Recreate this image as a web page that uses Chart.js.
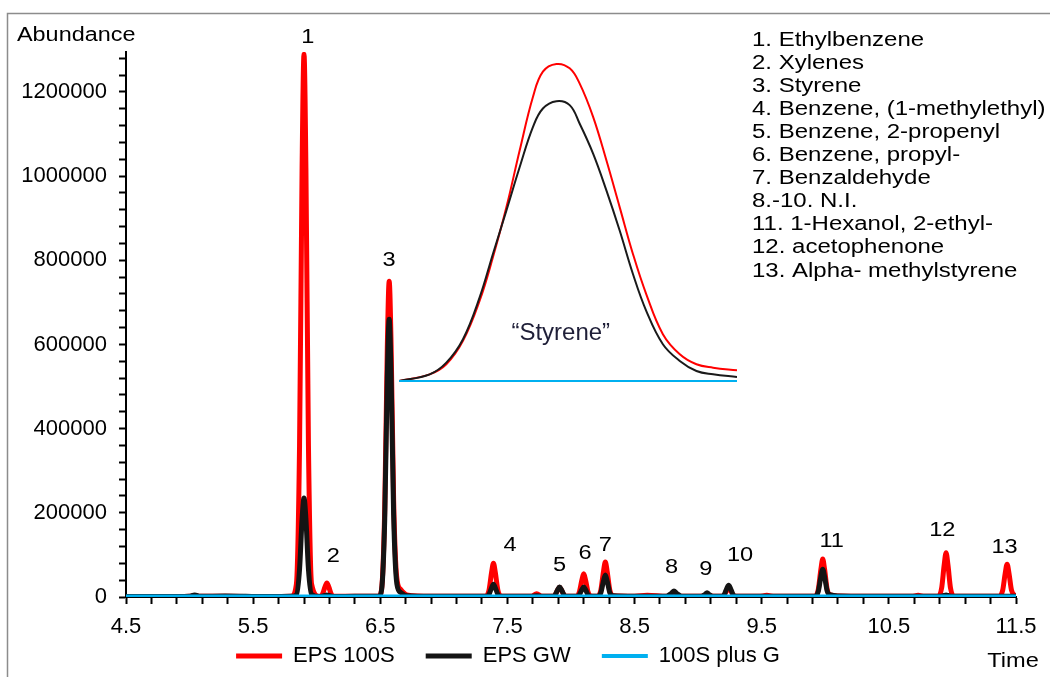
<!DOCTYPE html>
<html><head><meta charset="utf-8">
<script src="https://cdn.jsdelivr.net/npm/chart.js@4.4.1/dist/chart.umd.min.js"></script>
<style>
html,body{margin:0;padding:0;background:#fff;}
#wrap{position:relative;width:1050px;height:677px;overflow:hidden;}
#main{position:absolute;left:0;top:0;}
#inset{position:absolute;left:399px;top:55px;}
</style></head><body>
<div id="wrap"><canvas id="main" width="1050" height="677"></canvas><canvas id="inset" width="338" height="330"></canvas></div>
<script>
const FONT = '"Liberation Sans", Arial, Helvetica, sans-serif';
Chart.defaults.font.family = FONT;
Chart.defaults.color = '#000';

// ---- main chromatogram data (retention time in min, abundance) ----
const times = [
 4.50, 4.90, 5.00, 5.04, 5.08, 5.28, 5.60, 5.80,
 5.84, 5.865, 5.885, 5.90, 5.915, 5.935, 5.96,
 6.02, 6.045, 6.065, 6.08, 6.095, 6.115, 6.14,
 6.30, 6.49,
 6.51, 6.535, 6.555, 6.57, 6.585, 6.605, 6.63, 6.66, 6.71,
 6.90, 7.20,
 7.33, 7.355, 7.375, 7.39, 7.405, 7.425, 7.45,
 7.69, 7.73, 7.77,
 7.85, 7.875, 7.895, 7.91, 7.925, 7.945, 7.97,
 8.04, 8.065, 8.085, 8.10, 8.115, 8.135, 8.165,
 8.21, 8.235, 8.255, 8.27, 8.285, 8.305, 8.33,
 8.50, 8.60,
 8.75, 8.79, 8.81, 8.83, 8.87,
 9.02, 9.055, 9.07, 9.085, 9.12,
 9.18, 9.205, 9.225, 9.24, 9.255, 9.275, 9.30,
 9.48, 9.54, 9.60,
 9.92, 9.945, 9.965, 9.98, 9.995, 10.015, 10.04, 10.10,
 10.40, 10.68, 10.73, 10.78,
 10.89, 10.915, 10.935, 10.95, 10.965, 10.985, 11.01,
 11.37, 11.395, 11.415, 11.43, 11.445, 11.465, 11.50
];
const eps100S = [
 1000, 1000, 1500, 3000, 1500, 1500, 1000, 1500,
 30000, 360000, 1020000, 1290000, 1020000, 360000, 30000,
 1500, 6600, 23800, 33000, 23800, 6600, 1500,
 1500, 2000,
 18000, 210000, 590000, 750000, 600000, 230000, 45000, 18000, 5000,
 1500, 1500,
 1500, 16000, 57600, 80000, 57600, 16000, 1500,
 1500, 8000, 1500,
 1500, 4600, 16600, 23000, 16600, 4600, 1500,
 1500, 11000, 39600, 55000, 39600, 11000, 2000,
 2000, 16600, 59800, 83000, 59800, 16600, 3000,
 2000, 4000,
 1500, 5000, 8000, 5000, 1500,
 1500, 4000, 6000, 4000, 1500,
 1500, 4400, 15800, 22000, 15800, 4400, 1500,
 1500, 4000, 1500,
 1500, 18000, 64800, 90000, 64800, 18000, 5000, 2500,
 2000, 1500, 4000, 1500,
 1500, 21000, 75600, 105000, 75600, 21000, 1500,
 1500, 15600, 56200, 78000, 56200, 15600, 1500
];
const epsGW = [
 1000, 1000, 1500, 5000, 1500, 2500, 1000, 1500,
 5000, 66000, 186000, 235000, 186000, 66000, 6000,
 1000, 1800, 3600, 5000, 3600, 1800, 1000,
 1500, 2000,
 16000, 185000, 520000, 660000, 528000, 195000, 32000, 11000, 3000,
 1500, 1500,
 1500, 6000, 21600, 30000, 21600, 6000, 1500,
 1500, 3000, 1500,
 1500, 4800, 17300, 24000, 17300, 4800, 1500,
 1500, 4800, 17300, 24000, 17300, 4800, 2000,
 2000, 10400, 37400, 52000, 37400, 10400, 3000,
 2000, 2000,
 1500, 9000, 14000, 9000, 1500,
 1500, 6500, 10000, 6500, 1500,
 1500, 5600, 20200, 28000, 20200, 5600, 1500,
 1500, 2000, 1500,
 1500, 13200, 47500, 66000, 47500, 14000, 5000, 2500,
 2000, 1500, 2000, 1500,
 1500, 2000, 3600, 5000, 3600, 2000, 1500,
 1500, 1500, 1500, 2000, 1500, 1500, 1500
];
const plusGTimes = [4.5, 11.5];
const plusG = [1000, 1000];

const seriesNames = ['EPS 100S', 'EPS GW', '100S plus G'];
const seriesColors = ['#ff0000', '#141414', '#00b0f0'];
const xTickLabels = ['4.5', '5.5', '6.5', '7.5', '8.5', '9.5', '10.5', '11.5'];
const yTickLabels = ['0', '200000', '400000', '600000', '800000', '1000000', '1200000'];
const yMinorStep = 40000;
const yAxisMax = 1295000;

// peak number annotations
const peakLabels = ['1','2','3','4','5','6','7','8','9','10','11','12','13'];
const peakLabelTimes = [5.93, 6.13, 6.57, 7.52, 7.91, 8.11, 8.27, 8.79, 9.06, 9.33, 10.05, 10.92, 11.41];
const peakLabelValues = [1330000, 97400, 800700, 123500, 76000, 104500, 123500, 71300, 64200, 99800, 133000, 159200, 118800];

const compounds = [
 '1. Ethylbenzene', '2. Xylenes', '3. Styrene', '4. Benzene, (1-methylethyl)',
 '5. Benzene, 2-propenyl', '6. Benzene, propyl-', '7. Benzaldehyde', '8.-10. N.I.',
 '11. 1-Hexanol, 2-ethyl-', '12. acetophenone', '13. Alpha- methylstyrene'
];

// ---- inset: zoom on the styrene peak ----
const insetTimes = [6.5200, 6.5327, 6.5396, 6.5465, 6.5534, 6.5589, 6.5645, 6.5700, 6.5755, 6.5796, 6.5852, 6.5907,
 6.5948, 6.6004, 6.6059, 6.6114, 6.6169, 6.6224, 6.6293, 6.6363, 6.6432, 6.6501, 6.6600];
const insetRed = [0, 15800, 39600, 94900, 189900, 292700, 411400, 545900, 672400, 731800, 750000, 739700,
 704100, 625000, 522100, 411400, 300600, 205700, 110800, 63300, 39600, 31600, 25300];
const insetBlack = [0, 15800, 43500, 98900, 197800, 300600, 403500, 506300, 601200, 644700, 662100, 652700,
 609100, 537900, 450900, 356000, 253200, 166100, 87000, 47500, 23700, 15800, 9500];
const insetBlueTimes = [6.52, 6.66];
const insetBlue = [0, 0];
const insetLabel = '\u201cStyrene\u201d';
const insetLabelTime = 6.587;
const insetLabelValue = 113600;

const pts = (xs, ys) => xs.map((t, i) => ({x: t, y: ys[i]}));

function stretchText(ctx, text, x, y, align, size, sx, color) {
  ctx.save();
  ctx.font = size + 'px ' + FONT;
  ctx.textAlign = align;
  ctx.textBaseline = 'middle';
  ctx.fillStyle = color || '#000';
  ctx.translate(x, y);
  ctx.scale(sx, 1);
  ctx.fillText(text, 0, 0);
  ctx.restore();
}

const decor = {
  id: 'decor',
  beforeDraw(chart) {
    const ctx = chart.ctx;
    ctx.save();
    ctx.strokeStyle = '#8c8c8c';
    ctx.lineWidth = 1.5;
    ctx.beginPath();
    ctx.moveTo(7.5, 677); ctx.lineTo(7.5, 13.5); ctx.lineTo(1050, 13.5);
    ctx.stroke();
    ctx.restore();
  },
  afterDraw(chart) {
    const {ctx, scales: {x, y}} = chart;
    peakLabels.forEach((lab, i) => {
      stretchText(ctx, lab, x.getPixelForValue(peakLabelTimes[i]), y.getPixelForValue(peakLabelValues[i]), 'center', 20, 1.18);
    });
    stretchText(ctx, 'Abundance', 17, 35, 'left', 20, 1.17);
    stretchText(ctx, 'Time', x.getPixelForValue(11.5) - 3, 661, 'center', 20, 1.18);
    compounds.forEach((c, i) => stretchText(ctx, c, 752, 40 + i * 23.1, 'left', 20, 1.2));
  }
};

const mainChart = new Chart(document.getElementById('main'), {
  type: 'line',
  data: {
    datasets: [
      {label: seriesNames[0], data: pts(times, eps100S), borderColor: seriesColors[0], backgroundColor: seriesColors[0], borderWidth: 5, order: 3},
      {label: seriesNames[1], data: pts(times, epsGW), borderColor: seriesColors[1], backgroundColor: seriesColors[1], borderWidth: 5, order: 2},
      {label: seriesNames[2], data: pts(plusGTimes, plusG), borderColor: seriesColors[2], backgroundColor: seriesColors[2], borderWidth: 4, order: 1}
    ]
  },
  options: {
    responsive: false,
    animation: false,
    devicePixelRatio: 1,
    events: [],
    layout: {padding: {left: 0, right: 34, top: 52, bottom: 0}},
    elements: {
      point: {radius: 0, hoverRadius: 0},
      line: {cubicInterpolationMode: 'monotone', borderCapStyle: 'round', borderJoinStyle: 'round', fill: false}
    },
    scales: {
      x: {
        type: 'linear', min: 4.5, max: 11.5,
        afterFit: (s) => { s.height = 45; },
        border: {display: true, color: '#000', width: 2},
        grid: {display: true, drawOnChartArea: false, drawTicks: true, tickLength: 7, tickColor: '#000', tickWidth: 2},
        ticks: {
          stepSize: 0.2, autoSkip: false, maxRotation: 0, padding: 10,
          font: {size: 22}, color: '#000',
          callback: (v) => { const s = Number(v).toFixed(1); return xTickLabels.includes(s) ? s : ''; }
        }
      },
      y: {
        type: 'linear', min: 0, max: yAxisMax,
        afterFit: (s) => { s.width = 126; },
        afterBuildTicks: (s) => {
          const t = [];
          for (let v = 0; v <= yAxisMax; v += yMinorStep) t.push({value: v});
          s.ticks = t;
        },
        border: {display: true, color: '#000', width: 2},
        grid: {display: true, drawOnChartArea: false, drawTicks: true, tickLength: 7, tickColor: '#000', tickWidth: 2},
        ticks: {
          autoSkip: false, padding: 12,
          font: {size: 22}, color: '#000',
          callback: (v) => { const s = String(Math.round(v)); return yTickLabels.includes(s) ? s : ''; }
        }
      }
    },
    plugins: {
      legend: {
        display: true, position: 'bottom',
        labels: {
          usePointStyle: true, pointStyle: 'line', pointStyleWidth: 46, padding: 3,
          font: {size: 22}, color: '#000',
          sort: (a, b) => a.datasetIndex - b.datasetIndex,
          generateLabels: (chart) => {
            const items = Chart.defaults.plugins.legend.labels.generateLabels(chart);
            items.forEach((it) => { if (it.datasetIndex < seriesNames.length - 1) it.text = it.text + '\u2003 '; });
            return items;
          }
        }
      },
      tooltip: {enabled: false}
    }
  },
  plugins: [decor]
});

const insetDecor = {
  id: 'insetDecor',
  afterDraw(chart) {
    const {ctx, scales: {x, y}} = chart;
    stretchText(ctx, insetLabel, x.getPixelForValue(insetLabelTime), y.getPixelForValue(insetLabelValue), 'center', 24, 1.0, '#1f1f38');
  }
};

new Chart(document.getElementById('inset'), {
  type: 'line',
  data: {
    datasets: [
      {data: pts(insetTimes, insetRed), borderColor: '#ff0000', borderWidth: 2, order: 3},
      {data: pts(insetTimes, insetBlack), borderColor: '#1a1a1a', borderWidth: 2, order: 2},
      {data: pts(insetBlueTimes, insetBlue), borderColor: '#00b0f0', borderWidth: 2, order: 1}
    ]
  },
  options: {
    responsive: false, animation: false, devicePixelRatio: 1, events: [],
    layout: {padding: 0},
    elements: {point: {radius: 0, hoverRadius: 0}, line: {tension: 0.4, fill: false}},
    scales: {
      x: {type: 'linear', min: 6.52, max: 6.66, display: false},
      y: {type: 'linear', min: -9464, max: 771300, display: false}
    },
    plugins: {legend: {display: false}, tooltip: {enabled: false}}
  },
  plugins: [insetDecor]
});
</script></body></html>
